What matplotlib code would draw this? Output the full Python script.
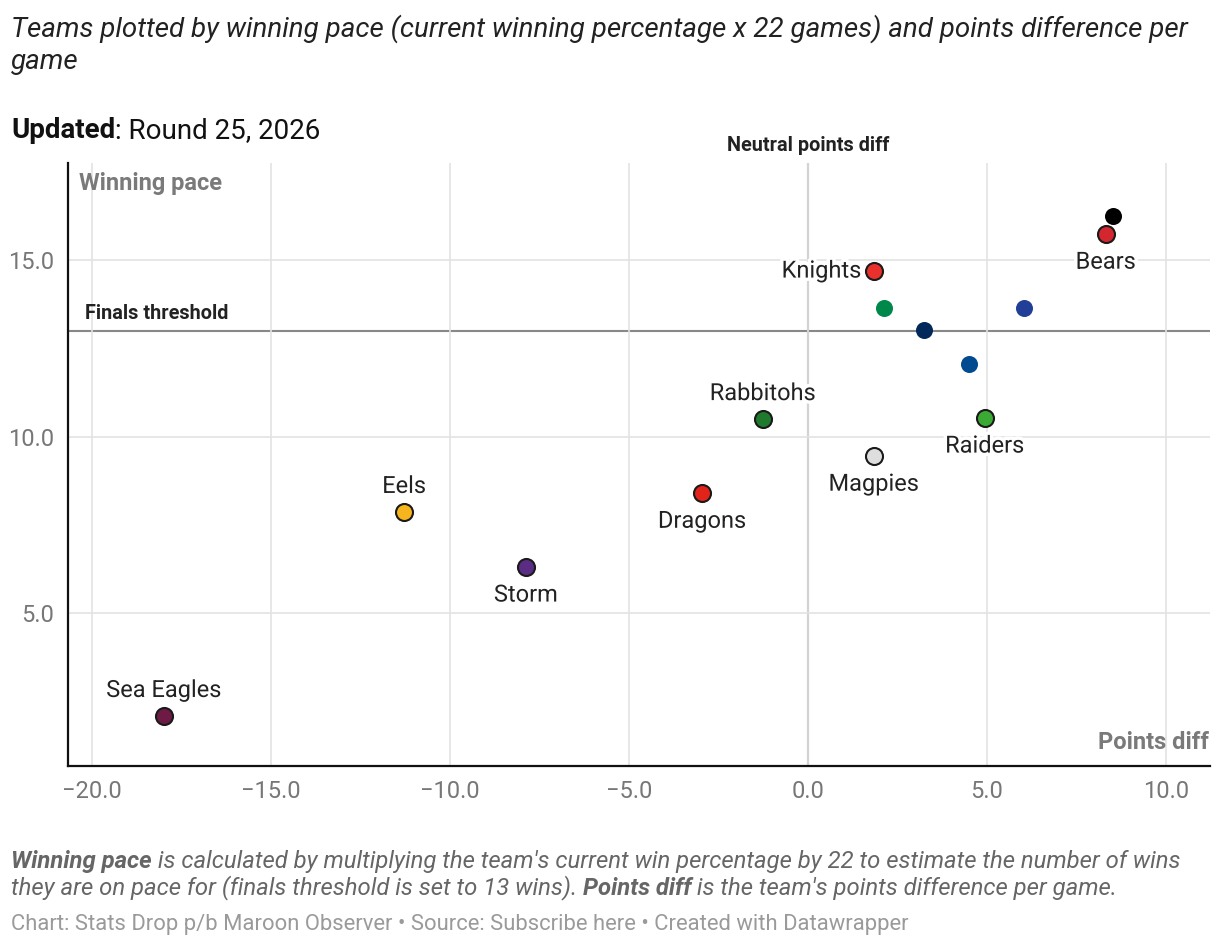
import matplotlib.pyplot as plt
import matplotlib.patheffects as pe

plt.rcParams['font.family'] = ['Roboto', 'DejaVu Sans']

# team data: points diff per game, winning pace
teams = ['', 'Bears', 'Knights', '', '', '', '', 'Raiders', 'Rabbitohs',
         'Magpies', 'Dragons', 'Eels', 'Storm', 'Sea Eagles']
points_diff = [8.52, 8.32, 1.84, 2.12, 6.03, 3.24, 4.50, 4.94, -1.26,
               1.84, -2.96, -11.28, -7.88, -17.99]
win_pace = [16.26, 15.75, 14.70, 13.65, 13.65, 13.03, 12.07, 10.54, 10.51,
            9.46, 8.41, 7.88, 6.32, 2.10]
colors = ['#000000', '#d3262f', '#e8302d', '#00874a', '#223f98', '#00285a',
          '#004a8f', '#3aaa35', '#1f7a2e', '#dedede', '#e2231a', '#f6b51c',
          '#5b2c83', '#6d1a45']
# where the label goes relative to the dot
label_pos = ['', 'below', 'left', '', '', '', '', 'below', 'above',
             'below', 'below', 'above', 'below', 'above']

finals_threshold = 13
x_ticks = [-20, -15, -10, -5, 0, 5, 10]
y_ticks = [5, 10, 15]

f = plt.figure(figsize=(12.2, 9.48), dpi=100)
ax = f.add_axes([0.0557, 0.192, 0.9361, 0.636])

ax.set_xlim(-20.67, 11.23)
ax.set_ylim(0.68, 17.76)
ax.set_xticks(x_ticks)
ax.set_yticks(y_ticks)
ax.set_xticklabels(['\u2212%.1f' % abs(v) if v < 0 else '%.1f' % v for v in x_ticks])
ax.set_yticklabels(['%.1f' % v for v in y_ticks])
ax.grid(True, color='#e3e3e3', lw=1.2, zorder=0)
ax.tick_params(length=0, labelsize=17, colors='#777777', pad=10)
for s in ['top', 'right']:
    ax.spines[s].set_visible(False)
for s in ['left', 'bottom']:
    ax.spines[s].set_linewidth(1.6)
    ax.spines[s].set_color('#111111')

ax.axhline(finals_threshold, color='#888888', lw=1.5, zorder=1)
ax.axvline(0, color='#888888', lw=1.5, zorder=1)

halo = [pe.withStroke(linewidth=5, foreground='white')]
lab_size = 17
for name, xv, yv, c, pos in zip(teams, points_diff, win_pace, colors, label_pos):
    if name:
        ax.scatter(xv, yv, s=150, color=c, edgecolor='#1a1a1a', linewidth=1.5, zorder=3)
    else:
        ax.scatter(xv, yv, s=150, color=c, linewidth=0, zorder=3)
    if pos == 'below':
        ax.annotate(name, (xv, yv), xytext=(0, -12), textcoords='offset points',
                    ha='center', va='top', fontsize=lab_size, color='#222222',
                    path_effects=halo, zorder=4)
    elif pos == 'above':
        ax.annotate(name, (xv, yv), xytext=(0, 10), textcoords='offset points',
                    ha='center', va='bottom', fontsize=lab_size, color='#222222',
                    path_effects=halo, zorder=4)
    elif pos == 'left':
        ax.annotate(name, (xv, yv), xytext=(-9, 0), textcoords='offset points',
                    ha='right', va='center', fontsize=lab_size, color='#222222',
                    path_effects=halo, zorder=4)

ax.text(0.01, 0.985, 'Winning pace', transform=ax.transAxes, ha='left', va='top',
        fontsize=17, fontweight='bold', color='#7a7a7a')
ax.text(0.999, 0.02, 'Points diff', transform=ax.transAxes, ha='right', va='bottom',
        fontsize=17, fontweight='bold', color='#7a7a7a')
ax.annotate('Neutral points diff', (0, 1), xycoords=('data', 'axes fraction'),
            xytext=(0, 6), textcoords='offset points', ha='center', va='bottom',
            fontsize=14.3, fontweight='bold', color='#222222', annotation_clip=False)
ax.annotate('Finals threshold', (-20.67, finals_threshold), xytext=(12, 6),
            textcoords='offset points', ha='left', va='bottom',
            fontsize=14.3, fontweight='bold', color='#222222')

f.text(0.009, 0.985, 'Teams plotted by winning pace (current winning percentage x 22 games) and points difference per\ngame',
       ha='left', va='top', fontsize=20, style='italic', color='#222222', linespacing=1.3)
t = f.text(0.009, 0.854, 'Updated', ha='left', va='baseline', fontsize=20,
           fontweight='bold', color='#111111')
f.canvas.draw()
bb = t.get_window_extent()
f.text(bb.x1 / f.bbox.width, 0.854, ': Round 25, 2026', ha='left', va='baseline',
       fontsize=20, color='#111111')

n1 = f.text(0.009, 0.084, 'Winning pace', ha='left', va='baseline', fontsize=17.2,
            style='italic', fontweight='bold', color='#666666')
f.canvas.draw()
b1 = n1.get_window_extent()
f.text(b1.x1 / f.bbox.width, 0.084,
       " is calculated by multiplying the team's current win percentage by 22 to estimate the number of wins",
       ha='left', va='baseline', fontsize=17.2, style='italic', color='#666666')
n2 = f.text(0.009, 0.056, 'they are on pace for (finals threshold is set to 13 wins). ',
            ha='left', va='baseline', fontsize=17.2, style='italic', color='#666666')
f.canvas.draw()
b2 = n2.get_window_extent()
n3 = f.text(b2.x1 / f.bbox.width, 0.056, 'Points diff', ha='left', va='baseline',
            fontsize=17.2, style='italic', fontweight='bold', color='#666666')
f.canvas.draw()
b3 = n3.get_window_extent()
f.text(b3.x1 / f.bbox.width, 0.056, " is the team's points difference per game.",
       ha='left', va='baseline', fontsize=17.2, style='italic', color='#666666')
f.text(0.009, 0.025, 'Chart: Stats Drop p/b Maroon Observer \u2022 Source: Subscribe here \u2022 Created with Datawrapper',
       ha='left', va='center', fontsize=15.8, color='#9a9a9a')

f.savefig('out.png', dpi=100)
